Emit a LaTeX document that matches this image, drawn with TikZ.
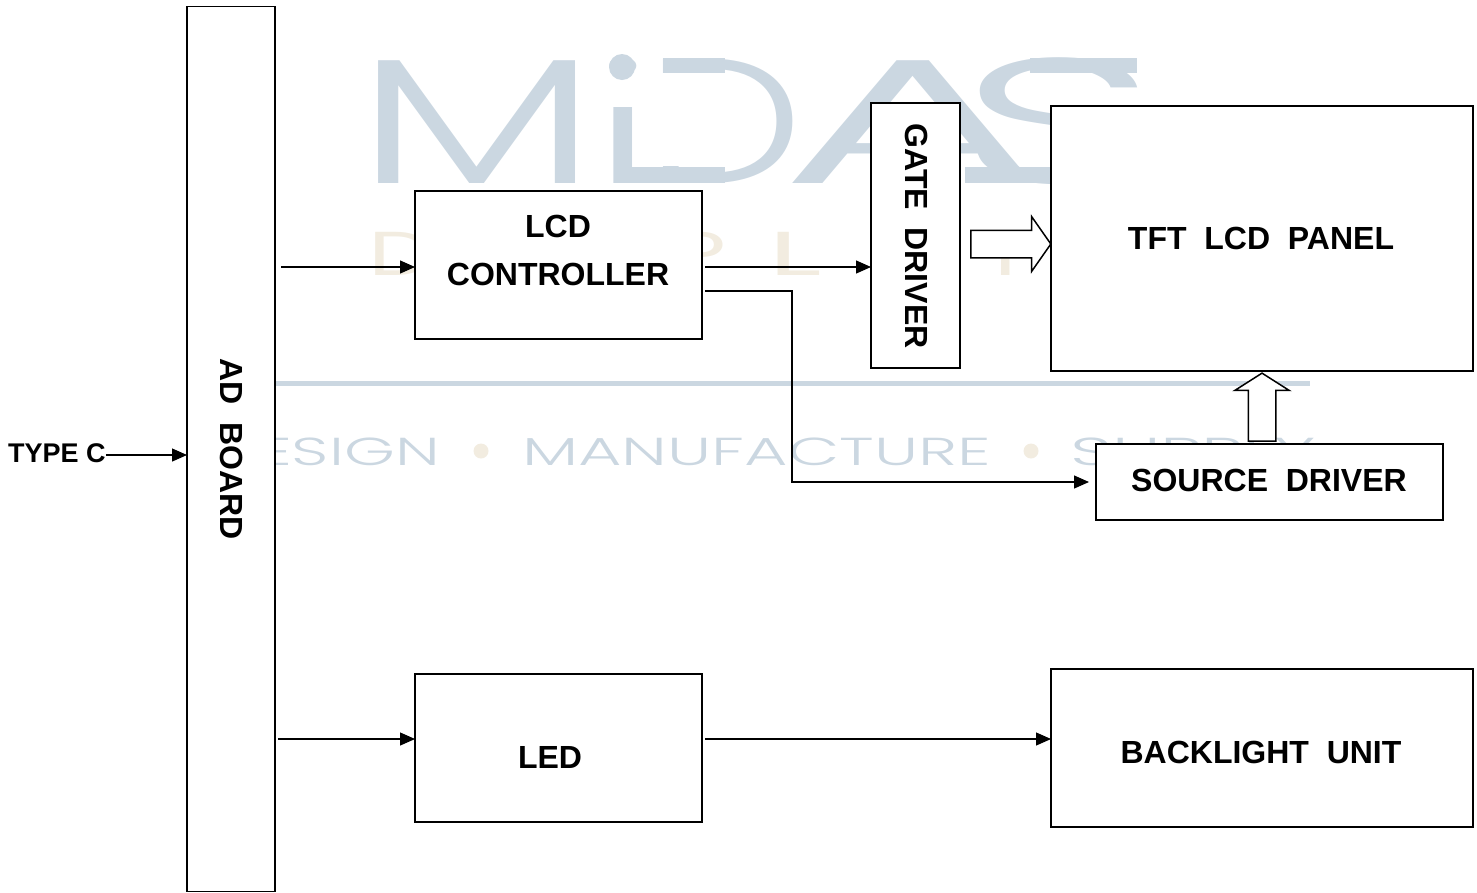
\documentclass[tikz,border=0pt]{standalone}
\usepackage{fontspec}
\setmainfont{Liberation Sans}
\newfontfamily\markfont{Poppins Light}
\newfontfamily\dispfont{Poppins}
\usetikzlibrary{arrows.meta,shapes.arrows}
\definecolor{markblue}{HTML}{CBD7E1}
\definecolor{markcream}{HTML}{F2ECE0}
\newcommand{\markletter}[3]{\makebox[#1pt][l]{\scalebox{#2}[1]{#3}}}
\tikzset{
  blockbox/.style={draw,fill=white,line width=1.4pt,inner sep=0pt,outer sep=0pt},
  blocktext/.style={font=\fontsize{32}{32}\selectfont\bfseries,inner sep=0pt},
  sigline/.style={line width=1.3pt,-{Triangle[length=15pt,width=13pt]}},
  fatarrow/.style={single arrow,draw,fill=white,line width=1.5pt,inner sep=0pt,outer sep=0pt,text width=0pt,text height=26pt,text depth=0pt,single arrow head extend=13.5pt},
  markword/.style={font=\markfont\fontsize{39}{39}\selectfont,text=markblue,inner sep=0pt,anchor=base west}
}
\begin{document}
\begin{tikzpicture}[x=1pt,y=-1pt]
\useasboundingbox (0,0) rectangle (1477,892);
% watermark
\node[font=\markfont\fontsize{178}{178}\selectfont,text=markblue,inner sep=0pt,anchor=base west] (logo) at (355,183)
  {\markletter{237}{1.62}{M}\markletter{53}{1.5}{\scalebox{1}[.94]{i}}\markletter{134}{1.26}{D}\markletter{179}{2.3}{A}\markletter{100}{1.97}{S}};
\fill[white] (608,81) rectangle (640,107);
\fill[white] (650,73) rectangle (695,166);
\fill[markblue] (622,67) circle (13);
\fill[markblue] (614,167) rectangle (725,183);
\fill[markblue] (663,58) rectangle (725,73);
\fill[markblue] (1030,58) rectangle (1137,73);
\fill[markblue] (965,167) rectangle (1051,183);
\foreach \x/\c/\s in {368/D/1.5,478/I/1.5,575/S/1.5,672/P/1.5,768/L/2,880/A/1.5,978/Y/1.5}
{
  \node[font=\dispfont\fontsize{62}{62}\selectfont,text=markcream,inner sep=0pt,anchor=base west] (disp\c) at (\x,275) {\scalebox{\s}[1]{\c}};
}
\fill[markblue] (275,381) rectangle (1310,386);
\node[markword] (wdesign) at (213,465) {\scalebox{1.67}[1]{DESIGN}};
\node[markword] (wmanu) at (522,465) {\scalebox{1.71}[1]{MANUFACTURE}};
\node[markword] (wsupply) at (1070,465) {\scalebox{1.88}[1]{SUPPLY}};
\foreach \x in {481,1031}
{
  \fill[markcream] (\x,451) ellipse (7.5 and 7.5);
}
% blocks
\node[blockbox,minimum width=88pt,minimum height=885pt] (adboard) at (231,449) {};
\node[blocktext,rotate=-90] (adtext) at (232,449) {AD\ \ BOARD};
\node[blockbox,minimum width=287pt,minimum height=148pt] (lcdctrl) at (558.5,265) {};
\node[blocktext,align=center] (lcdtext) at (558,250) {LCD\\[16pt]CONTROLLER};
\node[blockbox,minimum width=89pt,minimum height=265pt] (gatedrv) at (915.5,235.5) {};
\node[blocktext,rotate=-90] (gatetext) at (917,236) {GATE\ \ DRIVER};
\node[blockbox,minimum width=422pt,minimum height=265pt] (tftpanel) at (1262,238.5) {};
\node[blocktext] (tfttext) at (1261,238) {TFT\ \ LCD\ \ PANEL};
\node[blockbox,minimum width=347pt,minimum height=76pt] (srcdrv) at (1269.5,482) {};
\node[blocktext] (srctext) at (1269,480) {SOURCE\ \ DRIVER};
\node[blockbox,minimum width=287pt,minimum height=148pt] (ledbox) at (558.5,748) {};
\node[blocktext] (ledtext) at (550,757) {LED};
\node[blockbox,minimum width=422pt,minimum height=158pt] (backlight) at (1262,748) {};
\node[blocktext] (backtext) at (1261,752) {BACKLIGHT\ \ UNIT};
\node[blocktext,font=\fontsize{27}{27}\selectfont\bfseries,anchor=west] (typec) at (8,453) {TYPE C};
% connectors
\coordinate (adout) at (281,267);
\coordinate (ctrlout) at (705,267);
\coordinate (ctrlsrc) at (705,291);
\coordinate (srcbend) at (792,482);
\coordinate (srcin) at (1089,482);
\coordinate (adled) at (278,739);
\coordinate (ledout) at (705,739);
\draw[sigline] ([yshift=-2pt]typec.east) -- ([yshift=-6pt]adboard.west);
\draw[sigline] (adout) -- (lcdctrl.west |- adout);
\draw[sigline] (ctrlout) -- (gatedrv.west |- ctrlout);
\draw[sigline] (ctrlsrc) -| (srcbend) -- (srcin);
\draw[sigline] (adled) -- (ledbox.west |- adled);
\draw[sigline] (ledout) -- (backlight.west |- ledout);
\node[fatarrow,minimum height=80pt,single arrow tip angle=110] (gatearrow) at (1006,244) {};
\node[fatarrow,minimum height=68pt,single arrow tip angle=115,rotate=90] (srcarrow) at (1262,411.5) {};
\end{tikzpicture}
\end{document}
